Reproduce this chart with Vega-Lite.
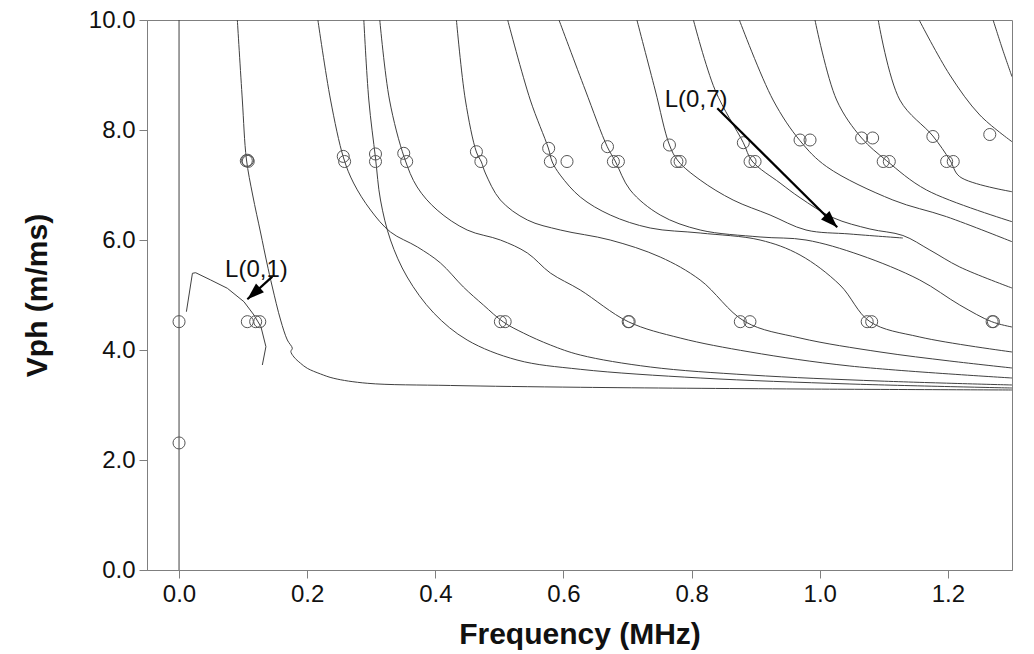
{
"$schema": "https://vega.github.io/schema/vega-lite/v6.json",
"width": 865, "height": 550,
"autosize": {"type": "none"},
"padding": {"left": 147, "top": 20, "right": 22, "bottom": 84},
"background": "white",
"config": {
 "view": {"stroke": "#7f7f7f", "strokeWidth": 1},
 "font": "Liberation Sans",
 "axis": {"grid": false, "domainColor": "#7f7f7f", "tickColor": "#7f7f7f", "tickSize": 8, "labelFont": "Liberation Sans", "labelFontSize": 24, "labelColor": "#111", "titleFont": "Liberation Sans", "titleFontSize": 30, "titleFontWeight": "bold", "titleColor": "#111"}
},
"datasets": {
 "straight": [
  {"c":"V","i":0,"f":0,"v":0},{"c":"V","i":1,"f":0,"v":10},
  {"c":"L01","i":0,"f":0.0115,"v":4.696},{"c":"L01","i":1,"f":0.0209,"v":5.395},{"c":"L01","i":2,"f":0.026,"v":5.405},{"c":"L01","i":3,"f":0.0494,"v":5.273},{"c":"L01","i":4,"f":0.0754,"v":5.122},{"c":"L01","i":5,"f":0.1013,"v":4.878},{"c":"L01","i":6,"f":0.1169,"v":4.636},{"c":"L01","i":7,"f":0.1278,"v":4.424},{"c":"L01","i":8,"f":0.1356,"v":4.06},{"c":"L01","i":9,"f":0.130,"v":3.727}
 ],
 "curves": [
  {"c":"A","i":0,"f":0.091,"v":10},{"c":"A","i":1,"f":0.0988,"v":8.545},{"c":"A","i":2,"f":0.1051,"v":7.473},{"c":"A","i":3,"f":0.1149,"v":6.818},{"c":"A","i":4,"f":0.1274,"v":6.127},{"c":"A","i":5,"f":0.1368,"v":5.6},{"c":"A","i":6,"f":0.1456,"v":5.145},{"c":"A","i":7,"f":0.1585,"v":4.545},{"c":"A","i":8,"f":0.169,"v":4.182},{"c":"A","i":9,"f":0.1768,"v":4.031},{"c":"A","i":10,"f":0.1745,"v":3.973},{"c":"A","i":11,"f":0.1793,"v":3.873},{"c":"A","i":12,"f":0.1897,"v":3.758},{"c":"A","i":13,"f":0.2002,"v":3.667},{"c":"A","i":14,"f":0.2209,"v":3.564},{"c":"A","i":15,"f":0.2416,"v":3.485},{"c":"A","i":16,"f":0.2937,"v":3.395},{"c":"A","i":17,"f":0.4235,"v":3.355},{"c":"A","i":18,"f":0.6262,"v":3.322},{"c":"A","i":19,"f":0.9692,"v":3.291},{"c":"A","i":20,"f":1.3,"v":3.273},
  {"c":"B","i":0,"f":0.2167,"v":10},{"c":"B","i":1,"f":0.2365,"v":8.545},{"c":"B","i":2,"f":0.2568,"v":7.491},{"c":"B","i":3,"f":0.2724,"v":7.036},{"c":"B","i":4,"f":0.2989,"v":6.545},{"c":"B","i":5,"f":0.33,"v":6.145},{"c":"B","i":6,"f":0.3721,"v":5.873},{"c":"B","i":7,"f":0.408,"v":5.582},{"c":"B","i":8,"f":0.4438,"v":5.145},{"c":"B","i":9,"f":0.475,"v":4.818},{"c":"B","i":10,"f":0.5062,"v":4.509},{"c":"B","i":11,"f":0.5374,"v":4.309},{"c":"B","i":12,"f":0.5795,"v":4.091},{"c":"B","i":13,"f":0.6262,"v":3.909},{"c":"B","i":14,"f":0.7354,"v":3.691},{"c":"B","i":15,"f":0.8912,"v":3.545},{"c":"B","i":16,"f":1.094,"v":3.436},{"c":"B","i":17,"f":1.3,"v":3.364},
  {"c":"C","i":0,"f":0.2884,"v":10},{"c":"C","i":1,"f":0.2962,"v":8.545},{"c":"C","i":2,"f":0.3066,"v":7.491},{"c":"C","i":3,"f":0.3144,"v":6.727},{"c":"C","i":4,"f":0.33,"v":6.0},{"c":"C","i":5,"f":0.356,"v":5.327},{"c":"C","i":6,"f":0.3975,"v":4.673},{"c":"C","i":7,"f":0.4496,"v":4.182},{"c":"C","i":8,"f":0.5275,"v":3.818},{"c":"C","i":9,"f":0.6262,"v":3.649},{"c":"C","i":10,"f":0.8133,"v":3.491},{"c":"C","i":11,"f":1.047,"v":3.382},{"c":"C","i":12,"f":1.3,"v":3.309},
  {"c":"D","i":0,"f":0.3133,"v":10},{"c":"D","i":1,"f":0.3285,"v":8.545},{"c":"D","i":2,"f":0.3518,"v":7.491},{"c":"D","i":3,"f":0.3716,"v":6.964},{"c":"D","i":4,"f":0.4028,"v":6.545},{"c":"D","i":5,"f":0.4496,"v":6.182},{"c":"D","i":6,"f":0.5015,"v":6.0},{"c":"D","i":7,"f":0.5436,"v":5.764},{"c":"D","i":8,"f":0.5795,"v":5.4},{"c":"D","i":9,"f":0.6262,"v":5.091},{"c":"D","i":10,"f":0.701,"v":4.515},{"c":"D","i":11,"f":0.7821,"v":4.218},{"c":"D","i":12,"f":0.8912,"v":3.964},{"c":"D","i":13,"f":1.047,"v":3.709},{"c":"D","i":14,"f":1.3,"v":3.491},
  {"c":"E","i":0,"f":0.4329,"v":10},{"c":"E","i":1,"f":0.4469,"v":8.545},{"c":"E","i":2,"f":0.4641,"v":7.6},{"c":"E","i":3,"f":0.4719,"v":7.418},{"c":"E","i":4,"f":0.478,"v":7.218},{"c":"E","i":5,"f":0.5015,"v":6.727},{"c":"E","i":6,"f":0.5436,"v":6.364},{"c":"E","i":7,"f":0.595,"v":6.182},{"c":"E","i":8,"f":0.6729,"v":6.0},{"c":"E","i":9,"f":0.7509,"v":5.691},{"c":"E","i":10,"f":0.8133,"v":5.273},{"c":"E","i":11,"f":0.8834,"v":4.515},{"c":"E","i":12,"f":0.9692,"v":4.218},{"c":"E","i":13,"f":1.094,"v":3.964},{"c":"E","i":14,"f":1.203,"v":3.8},{"c":"E","i":15,"f":1.3,"v":3.673},
  {"c":"F","i":0,"f":0.5129,"v":10},{"c":"F","i":1,"f":0.5482,"v":8.545},{"c":"F","i":2,"f":0.5763,"v":7.673},{"c":"F","i":3,"f":0.5825,"v":7.418},{"c":"F","i":4,"f":0.595,"v":7.18},{"c":"F","i":5,"f":0.6262,"v":6.782},{"c":"F","i":6,"f":0.6729,"v":6.455},{"c":"F","i":7,"f":0.7353,"v":6.218},{"c":"F","i":8,"f":0.8133,"v":6.127},{"c":"F","i":9,"f":0.9068,"v":6.0},{"c":"F","i":10,"f":0.9692,"v":5.727},{"c":"F","i":11,"f":1.0315,"v":5.182},{"c":"F","i":12,"f":1.0783,"v":4.515},{"c":"F","i":13,"f":1.1562,"v":4.236},{"c":"F","i":14,"f":1.3,"v":3.964},
  {"c":"G","i":0,"f":0.593,"v":10},{"c":"G","i":1,"f":0.634,"v":8.727},{"c":"G","i":2,"f":0.6683,"v":7.696},{"c":"G","i":3,"f":0.6807,"v":7.436},{"c":"G","i":4,"f":0.7041,"v":6.909},{"c":"G","i":5,"f":0.7509,"v":6.455},{"c":"G","i":6,"f":0.8133,"v":6.182},{"c":"G","i":7,"f":0.9068,"v":6.055},{"c":"G","i":8,"f":0.9785,"v":6.0},{"c":"G","i":9,"f":1.0627,"v":5.727},{"c":"G","i":10,"f":1.156,"v":5.273},{"c":"G","i":11,"f":1.2185,"v":4.818},{"c":"G","i":12,"f":1.2683,"v":4.515},{"c":"G","i":13,"f":1.3,"v":4.418},
  {"c":"H","i":0,"f":0.7146,"v":10},{"c":"H","i":1,"f":0.7431,"v":8.727},{"c":"H","i":2,"f":0.7654,"v":7.727},{"c":"H","i":3,"f":0.779,"v":7.436},{"c":"H","i":4,"f":0.8133,"v":7.091},{"c":"H","i":5,"f":0.8647,"v":6.727},{"c":"H","i":6,"f":0.9224,"v":6.455},{"c":"H","i":7,"f":0.9785,"v":6.182},{"c":"H","i":8,"f":1.0471,"v":6.109},{"c":"H","i":9,"f":1.1297,"v":6.036},
  {"c":"I","i":0,"f":0.8028,"v":10},{"c":"I","i":1,"f":0.8366,"v":8.727},{"c":"I","i":2,"f":0.8807,"v":7.769},{"c":"I","i":3,"f":0.8943,"v":7.436},{"c":"I","i":4,"f":0.938,"v":7.036},{"c":"I","i":5,"f":0.9692,"v":6.769},{"c":"I","i":6,"f":1.0206,"v":6.406},{"c":"I","i":7,"f":1.0783,"v":6.2},{"c":"I","i":8,"f":1.1297,"v":6.082},{"c":"I","i":9,"f":1.1718,"v":5.818},{"c":"I","i":10,"f":1.2185,"v":5.509},{"c":"I","i":11,"f":1.3,"v":5.127},
  {"c":"J","i":0,"f":0.8745,"v":10},{"c":"J","i":1,"f":0.9271,"v":8.545},{"c":"J","i":2,"f":0.9692,"v":7.805},{"c":"J","i":3,"f":1.0108,"v":7.333},{"c":"J","i":4,"f":1.1141,"v":6.727},{"c":"J","i":5,"f":1.1978,"v":6.424},{"c":"J","i":6,"f":1.3,"v":5.969},
  {"c":"K","i":0,"f":0.9925,"v":10},{"c":"K","i":1,"f":1.0263,"v":8.545},{"c":"K","i":2,"f":1.0653,"v":7.855},{"c":"K","i":3,"f":1.1043,"v":7.442},{"c":"K","i":4,"f":1.1666,"v":6.909},{"c":"K","i":5,"f":1.3,"v":6.333},
  {"c":"L","i":0,"f":1.0912,"v":10},{"c":"L","i":1,"f":1.125,"v":8.545},{"c":"L","i":2,"f":1.1765,"v":7.891},{"c":"L","i":3,"f":1.203,"v":7.455},{"c":"L","i":4,"f":1.2185,"v":7.151},{"c":"L","i":5,"f":1.3,"v":6.878},
  {"c":"M","i":0,"f":1.1551,"v":10},{"c":"M","i":1,"f":1.203,"v":9.0},{"c":"M","i":2,"f":1.2497,"v":8.273},{"c":"M","i":3,"f":1.3,"v":7.787},
  {"c":"N","i":0,"f":1.2705,"v":10},{"c":"N","i":1,"f":1.2856,"v":9.455},{"c":"N","i":2,"f":1.3,"v":8.969}
 ],
 "circles": [
  {"f":0.105,"v":7.44},{"f":0.107,"v":7.45},{"f":0.108,"v":7.43},
  {"f":0.2584,"v":7.427},{"f":0.3066,"v":7.427},{"f":0.3553,"v":7.427},{"f":0.4711,"v":7.427},{"f":0.5795,"v":7.427},{"f":0.6055,"v":7.427},{"f":0.6779,"v":7.427},{"f":0.6857,"v":7.427},{"f":0.777,"v":7.427},{"f":0.782,"v":7.427},{"f":0.8912,"v":7.427},{"f":0.899,"v":7.427},{"f":1.099,"v":7.427},{"f":1.1085,"v":7.427},{"f":1.198,"v":7.427},{"f":1.2083,"v":7.427},
  {"f":0.2563,"v":7.52},{"f":0.3066,"v":7.564},{"f":0.3507,"v":7.576},{"f":0.4641,"v":7.605},{"f":0.5769,"v":7.667},{"f":0.6687,"v":7.697},{"f":0.7654,"v":7.727},{"f":0.8807,"v":7.769},{"f":0.9692,"v":7.818},{"f":0.9848,"v":7.818},{"f":1.0653,"v":7.855},{"f":1.0825,"v":7.855},{"f":1.1765,"v":7.882},{"f":1.2653,"v":7.918},
  {"f":0.0,"v":4.515},{"f":0.1066,"v":4.515},{"f":0.1196,"v":4.515},{"f":0.126,"v":4.515},{"f":0.5015,"v":4.515},{"f":0.509,"v":4.515},{"f":0.701,"v":4.515},{"f":0.7025,"v":4.515},{"f":0.876,"v":4.515},{"f":0.891,"v":4.515},{"f":1.074,"v":4.515},{"f":1.081,"v":4.515},{"f":1.269,"v":4.515},{"f":1.271,"v":4.515},
  {"f":0.0,"v":2.31}
 ],
 "labels": [{"t":"L(0,1)","f":0.1208,"v":5.455},{"t":"L(0,7)","f":0.807,"v":8.545}],
 "arrows": [{"a":"L(0,7)","f":0.84,"v":8.395,"f2":1.0273,"v2":6.231},{"a":"L(0,1)","f":0.1456,"v":5.333,"f2":0.1066,"v2":4.922}]
},
"layer": [
 {
  "data": {"name": "straight"},
  "mark": {"type": "line", "stroke": "#404040", "strokeWidth": 1, "clip": true},
  "encoding": {
   "x": {"field": "f", "type": "quantitative", "scale": {"domain": [-0.05, 1.3], "nice": false, "zero": false},
         "axis": {"values": [0, 0.2, 0.4, 0.6, 0.8, 1.0, 1.2], "format": ".1f", "title": "Frequency (MHz)", "labelPadding": 4, "titlePadding": 13}},
   "y": {"field": "v", "type": "quantitative", "scale": {"domain": [0, 10], "nice": false, "zero": false},
         "axis": {"values": [0, 2, 4, 6, 8, 10], "format": ".1f", "title": "Vph (m/ms)", "labelPadding": 4, "titlePadding": 36}},
   "detail": {"field": "c"},
   "order": {"field": "i", "type": "quantitative"}
  }
 },
 {
  "data": {"name": "curves"},
  "mark": {"type": "line", "stroke": "#404040", "strokeWidth": 1, "clip": true, "interpolate": "catmull-rom"},
  "encoding": {
   "x": {"field": "f", "type": "quantitative"},
   "y": {"field": "v", "type": "quantitative"},
   "detail": {"field": "c"},
   "order": {"field": "i", "type": "quantitative"}
  }
 },
 {
  "data": {"name": "circles"},
  "mark": {"type": "point", "shape": "circle", "filled": false, "size": 145, "stroke": "#555", "strokeWidth": 1, "opacity": 1},
  "encoding": {"x": {"field": "f", "type": "quantitative"}, "y": {"field": "v", "type": "quantitative"}}
 },
 {
  "data": {"name": "arrows"},
  "mark": {"type": "rule", "stroke": "#000", "strokeWidth": 2.2},
  "encoding": {"x": {"field": "f", "type": "quantitative"}, "y": {"field": "v", "type": "quantitative"}, "x2": {"field": "f2"}, "y2": {"field": "v2"}}
 },
 {
  "data": {"name": "arrows"},
  "transform": [{"filter": "datum.a === 'L(0,7)'"}],
  "mark": {"type": "point", "shape": "M0,0L0.7,2L-0.7,2Z", "filled": true, "fill": "#000", "stroke": null, "size": 289, "angle": 135, "opacity": 1},
  "encoding": {"x": {"field": "f2", "type": "quantitative"}, "y": {"field": "v2", "type": "quantitative"}}
 },
 {
  "data": {"name": "arrows"},
  "transform": [{"filter": "datum.a === 'L(0,1)'"}],
  "mark": {"type": "point", "shape": "M0,0L0.7,2L-0.7,2Z", "filled": true, "fill": "#000", "stroke": null, "size": 289, "angle": 228, "opacity": 1},
  "encoding": {"x": {"field": "f2", "type": "quantitative"}, "y": {"field": "v2", "type": "quantitative"}}
 },
 {
  "data": {"name": "labels"},
  "mark": {"type": "text", "font": "Liberation Sans", "fontSize": 24, "fill": "#111", "align": "center", "baseline": "middle"},
  "encoding": {"x": {"field": "f", "type": "quantitative"}, "y": {"field": "v", "type": "quantitative"}, "text": {"field": "t"}}
 }
]
}
